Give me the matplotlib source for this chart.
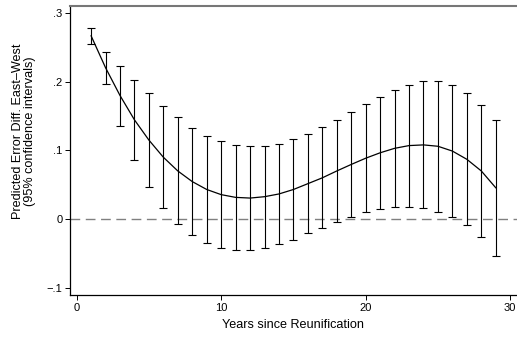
import matplotlib
matplotlib.use('Agg')
import matplotlib.pyplot as plt
import numpy as np

plt.rcParams['font.family'] = ['Liberation Sans', 'DejaVu Sans']

years = np.arange(1, 30)
upper = [0.278, 0.244, 0.2235, 0.203, 0.183, 0.164, 0.148, 0.133, 0.121, 0.113,
         0.108, 0.106, 0.107, 0.110, 0.1166, 0.124, 0.1337, 0.1448, 0.1555, 0.167,
         0.178, 0.1885, 0.196, 0.201, 0.201, 0.195, 0.1837, 0.166, 0.145]
lower = [0.2555, 0.197, 0.136, 0.086, 0.0466, 0.0155, -0.0073, -0.024, -0.0355, -0.042,
         -0.045, -0.045, -0.042, -0.037, -0.030, -0.021, -0.013, -0.0044, 0.0034, 0.0102,
         0.015, 0.018, 0.018, 0.0155, 0.0107, 0.003, -0.0092, -0.0267, -0.054]
estimate = [0.267, 0.2205, 0.18, 0.1445, 0.115, 0.09, 0.070, 0.0545, 0.043, 0.0355,
            0.0315, 0.0305, 0.0325, 0.0365, 0.043, 0.0515, 0.060, 0.070, 0.0795, 0.0886,
            0.0965, 0.103, 0.107, 0.108, 0.106, 0.099, 0.087, 0.070, 0.0455]

yticks = [-0.1, 0, 0.1, 0.2, 0.3]
ytick_labels = ['\u2212.1', '0', '.1', '.2', '.3']
xticks = [0, 10, 20, 30]

fig = plt.figure(figsize=(5.17, 3.38), dpi=100)
ax = fig.add_axes([70/517, 43/338, 1 - 70/517, 289.5/338])

upper = np.array(upper)
lower = np.array(lower)
est = np.array(estimate)

ax.axhline(0, color='#808080', lw=1.0, ls=(0, (7, 4)), zorder=1)
ax.errorbar(years, est, yerr=[est - lower, upper - est], fmt='none',
            ecolor='black', elinewidth=0.8, capsize=2.6, capthick=0.8, zorder=2)
ax.plot(years, est, color='black', lw=0.9, zorder=3)

ax.set_xlim(-0.46, 30.47)
ax.set_ylim(-0.1108, 0.3112)
ax.set_xticks(xticks)
ax.set_yticks(yticks)
ax.set_yticklabels(ytick_labels)
ax.tick_params(direction='out', length=3.5, width=0.7, labelsize=8, pad=2)

ax.spines['right'].set_visible(False)
ax.spines['top'].set_color('#777777')
ax.spines['top'].set_linewidth(1.5)
ax.spines['left'].set_linewidth(0.9)
ax.spines['bottom'].set_linewidth(0.9)

ax.set_xlabel('Years since Reunification', fontsize=9.1)
ax.xaxis.set_label_coords(0.5, -0.082)
ax.set_ylabel('Predicted Error Diff. East\u2013West\n(95% confidence intervals)',
              fontsize=9.1, linespacing=1.0)
ax.yaxis.set_label_coords(-0.076, 0.566)

fig.savefig('out.png', dpi=100)
